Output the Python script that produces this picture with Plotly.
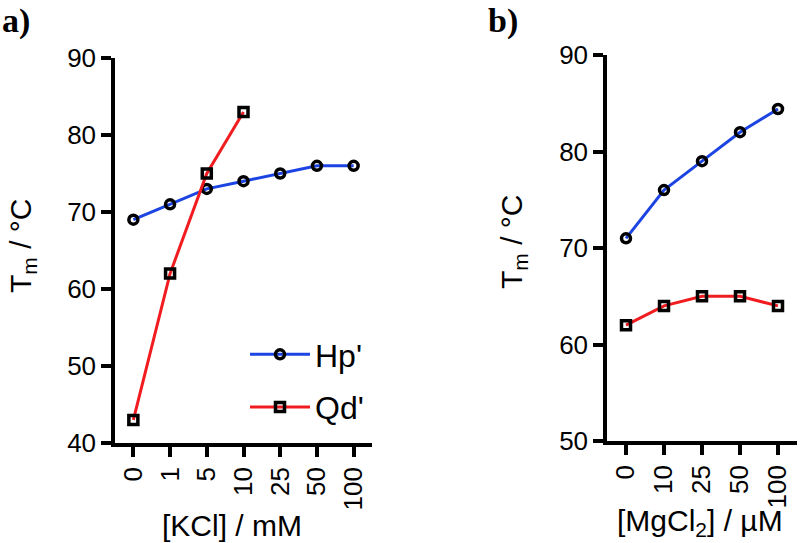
import plotly.graph_objects as go

# ---- data ----
kcl_labels = ["0", "1", "5", "10", "25", "50", "100"]
hp_kcl = [69, 71, 73, 74, 75, 76, 76]
qd_kcl_labels = ["0", "1", "5", "10"]
qd_kcl = [43, 62, 75, 83]

mg_labels = ["0", "10", "25", "50", "100"]
hp_mg = [71, 76, 79, 82, 84.4]
qd_mg = [62, 64, 65, 65, 64]

y1_ticks = [40, 50, 60, 70, 80, 90]
y2_ticks = [50, 60, 70, 80, 90]

BLUE = "rgb(28,68,226)"
RED = "rgb(240,28,32)"
FONT = "Liberation Sans, Arial, sans-serif"
W, H = 800, 543

fig = go.Figure()

def add(x, y, color, symbol, name, xa, ya, showlegend, group):
    fig.add_trace(go.Scatter(
        x=x, y=y, mode="lines+markers", name=name,
        xaxis=xa, yaxis=ya, showlegend=showlegend, legendgroup=group,
        line=dict(color=color, width=3),
        marker=dict(symbol=symbol, size=9, color="black", line=dict(width=3.5, color="black")),
    ))

add(kcl_labels, hp_kcl, BLUE, "circle-open", "Hp'", "x", "y", True, "hp")
add(qd_kcl_labels, qd_kcl, RED, "square-open", "Qd'", "x", "y", True, "qd")
add(mg_labels, hp_mg, BLUE, "circle-open", "Hp'", "x2", "y2", False, "hp")
add(mg_labels, qd_mg, RED, "square-open", "Qd'", "x2", "y2", False, "qd")

axis_common = dict(
    showline=True, linewidth=3.5, linecolor="black",
    ticks="outside", ticklen=10, tickwidth=3.5, tickcolor="black",
    showgrid=False, zeroline=False,
    tickfont=dict(family=FONT, size=26, color="black"),
)

def px_x(p):
    return p / W

def px_y(p):
    return (H - p) / H

fig.update_layout(
    width=W, height=H,
    margin=dict(l=0, r=0, t=0, b=0, autoexpand=False),
    paper_bgcolor="white", plot_bgcolor="white",
    font=dict(family=FONT, color="black"),
    xaxis=dict(**axis_common, type="category", categoryorder="array", categoryarray=kcl_labels,
               range=[-0.5, 6.5], tickangle=-90, domain=[px_x(115), px_x(372)], anchor="y"),
    yaxis=dict(**axis_common, range=[40, 90], tickvals=y1_ticks,
               domain=[px_y(443), px_y(58)], anchor="x"),
    xaxis2=dict(**axis_common, type="category", categoryorder="array", categoryarray=mg_labels,
                range=[-0.5, 4.5], tickangle=-90, domain=[px_x(607), px_x(797)], anchor="y2"),
    yaxis2=dict(**axis_common, range=[50, 90], tickvals=y2_ticks,
                domain=[px_y(441), px_y(55)], anchor="x2"),
    legend=dict(x=px_x(245), y=px_y(327), xanchor="left", yanchor="top",
                font=dict(family=FONT, size=32, color="black"), itemwidth=60,
                bgcolor="rgba(0,0,0,0)", traceorder="grouped", tracegroupgap=8),
    showlegend=True,
)

ann = [
    dict(text="T<sub>m</sub> / °C", x=px_x(23), y=px_y(246), textangle=-90, size=30),
    dict(text="T<sub>m</sub> / °C", x=px_x(514), y=px_y(242), textangle=-90, size=30),
    dict(text="[KCl] / mM", x=px_x(232), y=px_y(525), textangle=0, size=30),
    dict(text="[MgCl<sub>2</sub>] / µM", x=px_x(700), y=px_y(522), textangle=0, size=30),
]
for a in ann:
    fig.add_annotation(text=a["text"], x=a["x"], y=a["y"], xref="paper", yref="paper",
                       xanchor="center", yanchor="middle", textangle=a["textangle"],
                       showarrow=False, font=dict(family=FONT, size=a["size"], color="black"))

for txt, xp in [("a)", 0), ("b)", 486)]:
    fig.add_annotation(text="<b>" + txt + "</b>", x=px_x(xp), y=px_y(0), xref="paper", yref="paper",
                       xanchor="left", yanchor="top", showarrow=False,
                       font=dict(family="Liberation Serif, Times New Roman, serif", size=34, color="black"))

fig.write_html("out.html", config={"displayModeBar": False},
               post_script="document.body.style.margin='0';")
